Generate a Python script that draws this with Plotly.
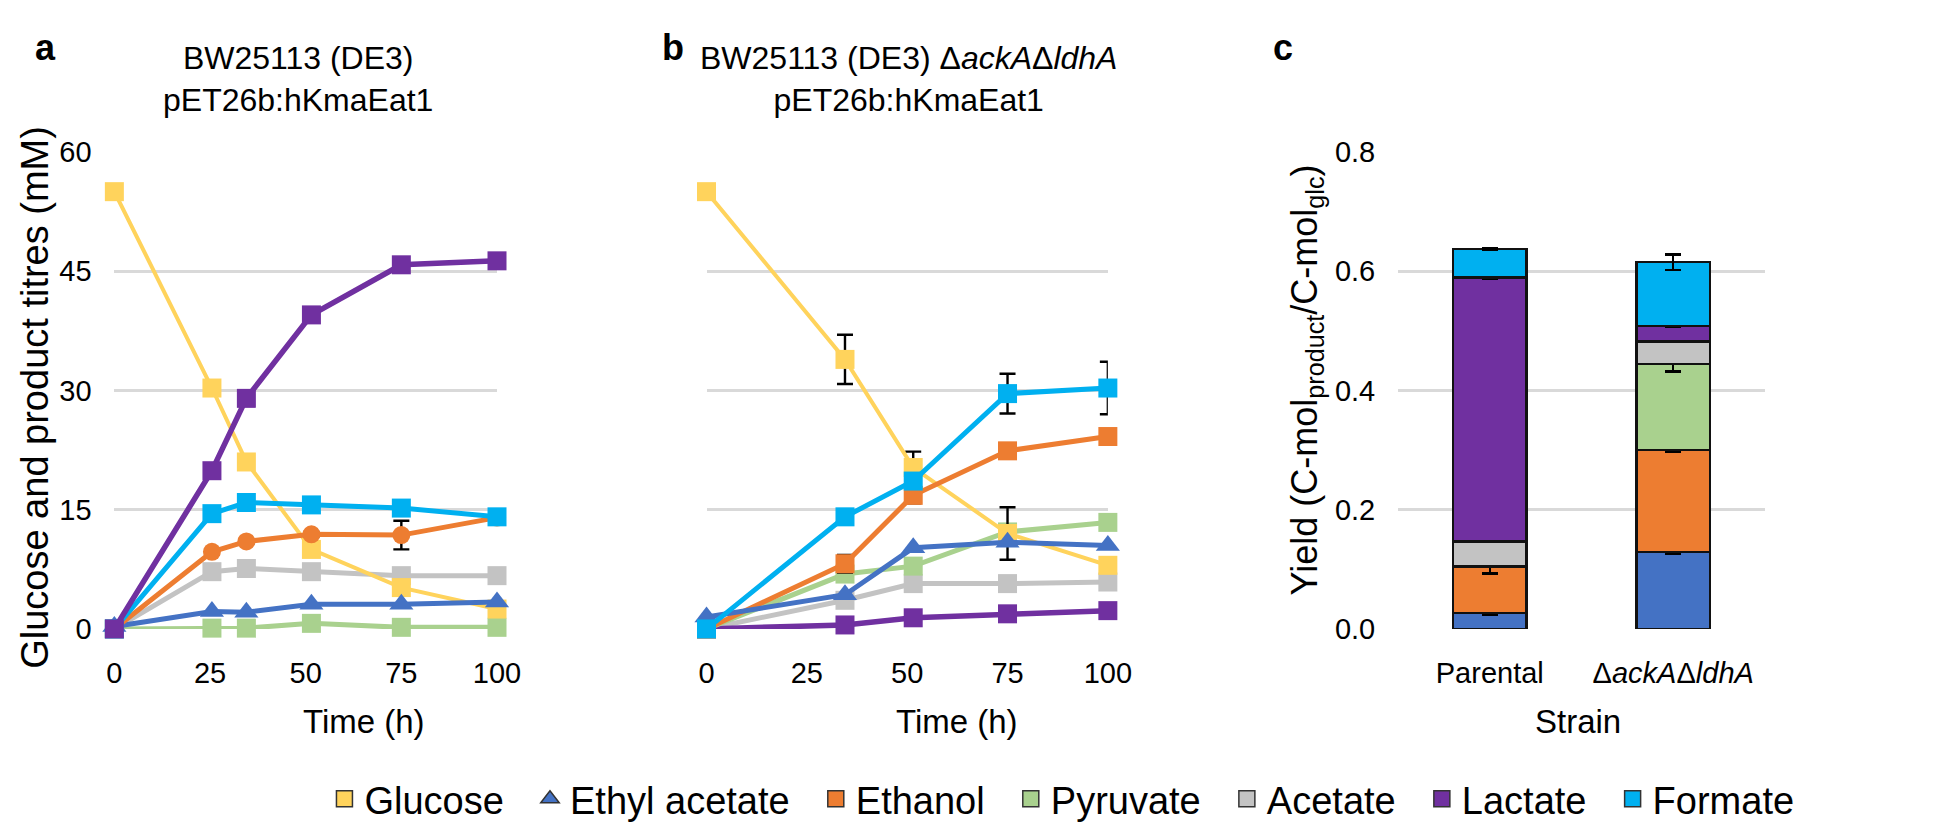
import plotly.graph_objects as go

# ---------------- data ----------------
time_a = [0, 25.5, 34.5, 51.5, 75, 100]
glucose_a = [55.0, 30.3, 21.0, 10.0, 5.2, 2.5]
ethyl_acetate_a = [0.3, 2.2, 2.1, 3.1, 3.1, 3.4]
ethanol_a = [0.0, 9.7, 11.0, 11.9, 11.8, 14.0]
ethanol_a_err = [0, 0.3, 0.3, 0.3, 1.8, 0.2]
pyruvate_a = [0.0, 0.1, 0.1, 0.7, 0.2, 0.2]
acetate_a = [0.0, 7.2, 7.6, 7.2, 6.7, 6.7]
lactate_a = [0.0, 19.9, 29.0, 39.5, 45.8, 46.3]
formate_a = [0.0, 14.5, 15.9, 15.6, 15.2, 14.1]

time_b = [0, 34.5, 51.5, 75, 100]
glucose_b = [55.0, 33.9, 20.3, 12.0, 8.0]
glucose_b_err = [0, 3.1, 2.0, 3.3, 0.3]
ethyl_acetate_b = [1.5, 4.3, 10.2, 10.9, 10.5]
ethanol_b = [0.0, 8.2, 16.8, 22.4, 24.2]
ethanol_b_err = [0, 1.1, 1.0, 0.5, 0.5]
pyruvate_b = [0.0, 6.9, 7.9, 12.2, 13.4]
acetate_b = [0.0, 3.6, 5.7, 5.7, 5.9]
lactate_b = [0.0, 0.5, 1.4, 1.9, 2.3]
formate_b = [0.0, 14.1, 18.6, 29.6, 30.3]
formate_b_err = [0, 0.3, 0.5, 2.5, 3.3]

strains = ["Parental", "Δ<i>ackA</i>Δ<i>ldhA</i>"]
yield_ethyl_acetate = [0.027, 0.129]
yield_ethyl_acetate_err = [0.003, 0.003]
yield_ethanol = [0.078, 0.171]
yield_ethanol_err = [0.012, 0.003]
yield_pyruvate = [0.0, 0.144]
yield_pyruvate_err = [0.0, 0.012]
yield_acetate = [0.042, 0.038]
yield_acetate_err = [0.001, 0.001]
yield_lactate = [0.442, 0.026]
yield_lactate_err = [0.002, 0.002]
yield_formate = [0.048, 0.107]
yield_formate_err = [0.001, 0.013]

legend_names = ["Glucose", "Ethyl acetate", "Ethanol", "Pyruvate", "Acetate", "Lactate", "Formate"]

# ---------------- styles ----------------
FONT = "Liberation Sans, Arial, sans-serif"
C = {
    "Glucose": "#FFD35C",
    "Ethyl acetate": "#4472C4",
    "Ethanol": "#ED7D31",
    "Pyruvate": "#A9D18E",
    "Acetate": "#C3C3C3",
    "Lactate": "#7030A0",
    "Formate": "#00B0F0",
}
GRID = "#D9D9D9"

fig = go.Figure()


def add_line(xv, yv, name, xa, ya, symbol="square", width=5, size=19, err=None):
    kw = {}
    if err is not None:
        kw["error_y"] = dict(type="data", array=err, visible=True, color="black", thickness=2.4, width=8)
    fig.add_trace(go.Scatter(
        x=xv, y=yv, mode="lines+markers", name=name, showlegend=False,
        line=dict(color=C[name], width=width),
        marker=dict(symbol=symbol, size=size, color=C[name]),
        xaxis=xa, yaxis=ya, cliponaxis=False, **kw))


# panel a (draw order: bottom first)
add_line(time_a, pyruvate_a, "Pyruvate", "x", "y")
add_line(time_a, acetate_a, "Acetate", "x", "y")
add_line(time_a, glucose_a, "Glucose", "x", "y", width=4)
add_line(time_a, ethyl_acetate_a, "Ethyl acetate", "x", "y", symbol="triangle-up", size=21)
add_line(time_a, ethanol_a, "Ethanol", "x", "y", symbol="circle", size=18, err=ethanol_a_err)
add_line(time_a, formate_a, "Formate", "x", "y")
add_line(time_a, lactate_a, "Lactate", "x", "y", width=5.5)

# panel b
add_line(time_b, acetate_b, "Acetate", "x2", "y2")
add_line(time_b, lactate_b, "Lactate", "x2", "y2", width=5.5)
add_line(time_b, pyruvate_b, "Pyruvate", "x2", "y2")
add_line(time_b, glucose_b, "Glucose", "x2", "y2", width=4, err=glucose_b_err)
add_line(time_b, ethanol_b, "Ethanol", "x2", "y2", err=ethanol_b_err)
add_line(time_b, ethyl_acetate_b, "Ethyl acetate", "x2", "y2", symbol="triangle-up", size=21)
add_line(time_b, formate_b, "Formate", "x2", "y2", err=formate_b_err)

# panel c stacked bars
stack = [
    ("Ethyl acetate", yield_ethyl_acetate, yield_ethyl_acetate_err),
    ("Ethanol", yield_ethanol, yield_ethanol_err),
    ("Pyruvate", yield_pyruvate, yield_pyruvate_err),
    ("Acetate", yield_acetate, yield_acetate_err),
    ("Lactate", yield_lactate, yield_lactate_err),
    ("Formate", yield_formate, yield_formate_err),
]
for name, vals, errs in stack:
    fig.add_trace(go.Bar(
        x=strains, y=vals, name=name, showlegend=False,
        marker=dict(color=C[name], line=dict(color="#111111", width=2.5)),
        error_y=dict(type="data", array=errs, visible=True, color="black", thickness=2.5, width=8),
        xaxis="x3", yaxis="y3"))

# legend-only traces (trailing no-break spaces widen the gap after each entry)
for name in legend_names:
    fig.add_trace(go.Scatter(
        x=[None], y=[None], mode="markers", name=name + "\u00a0\u00a0", showlegend=True,
        marker=dict(symbol="triangle-up" if name == "Ethyl acetate" else "square",
                    size=16, color=C[name], line=dict(color="#333333", width=1.5)),
        xaxis="x", yaxis="y"))

W, H = 1958, 836


def px_x(p):
    return p / W


def px_y(p):
    return 1 - p / H


tick_font = dict(family=FONT, size=29, color="black")
ydom = [px_y(629), px_y(133)]

common_x = dict(showgrid=False, zeroline=False, showline=False, ticks="outside", ticklen=18,
                tickcolor="rgba(0,0,0,0)", tickfont=tick_font)
common_y = dict(showgrid=True, gridcolor=GRID, gridwidth=2.5, zeroline=False, showline=False,
                ticks="outside", ticklen=16, tickcolor="rgba(0,0,0,0)", tickfont=tick_font)

fig.update_layout(
    width=W, height=H,
    margin=dict(l=0, r=0, t=0, b=0),
    paper_bgcolor="white", plot_bgcolor="white",
    font=dict(family=FONT, color="black"),
    barmode="stack", bargap=0.6,
    xaxis=dict(domain=[px_x(100), px_x(489)], range=[0, 100], tickvals=[0, 25, 50, 75, 100],
               anchor="y", **common_x),
    yaxis=dict(domain=ydom, range=[0, 60], tickvals=[0, 15, 30, 45, 60], anchor="x", **common_y),
    xaxis2=dict(domain=[px_x(702), px_x(1110)], range=[0, 100], tickvals=[0, 25, 50, 75, 100],
                anchor="y2", **common_x),
    yaxis2=dict(domain=ydom, range=[0, 60], tickvals=[0, 15, 30, 45, 60], showticklabels=False,
                anchor="x2", **common_y),
    xaxis3=dict(domain=[px_x(1405), px_x(1778)], range=[-0.5, 1.5], anchor="y3", **common_x),
    yaxis3=dict(domain=ydom, range=[0, 0.8], tickvals=[0, 0.2, 0.4, 0.6, 0.8], tickformat=".1f",
                anchor="x3", **common_y),
    legend=dict(orientation="h", x=px_x(1074), xanchor="center", y=px_y(806), yanchor="middle",
                font=dict(family=FONT, size=38, color="black"), itemsizing="trace",
                traceorder="normal", bgcolor="rgba(0,0,0,0)", tracegroupgap=0),
)

ann = []
# panel letters
for letter, x in [("a", 30), ("b", 668), ("c", 1288)]:
    ann.append(dict(text=f"<b>{letter}</b>", x=px_x(x), y=px_y(24), xref="paper", yref="paper",
                    showarrow=False, font=dict(family=FONT, size=36), xanchor="center", yanchor="middle"))
# titles
ann.append(dict(text="BW25113 (DE3)<br>pET26b:hKmaEat1", x=px_x(287), y=px_y(57), xref="paper",
                yref="paper", showarrow=False, font=dict(family=FONT, size=32), xanchor="center",
                yanchor="middle", align="center"))
ann.append(dict(text="BW25113 (DE3) Δ<i>ackA</i>Δ<i>ldhA</i><br>pET26b:hKmaEat1", x=px_x(907),
                y=px_y(57), xref="paper", yref="paper", showarrow=False, font=dict(family=FONT, size=32),
                xanchor="center", yanchor="middle", align="center"))
# axis titles
ann.append(dict(text="Glucose and product titres (mM)", x=px_x(19), y=px_y(388), xref="paper",
                yref="paper", showarrow=False, textangle=-90, font=dict(family=FONT, size=38),
                xanchor="center", yanchor="middle"))
ann.append(dict(text="Yield (C-mol<sub>product</sub>/C-mol<sub>glc</sub>)", x=px_x(1312), y=px_y(370),
                xref="paper", yref="paper", showarrow=False, textangle=-90,
                font=dict(family=FONT, size=36), xanchor="center", yanchor="middle"))
for txt, x in [("Time (h)", 354), ("Time (h)", 957), ("Strain", 1588)]:
    ann.append(dict(text=txt, x=px_x(x), y=px_y(725), xref="paper", yref="paper", showarrow=False,
                    font=dict(family=FONT, size=33), xanchor="center", yanchor="middle"))
fig.update_layout(annotations=ann)

fig.write_html("out.html")
